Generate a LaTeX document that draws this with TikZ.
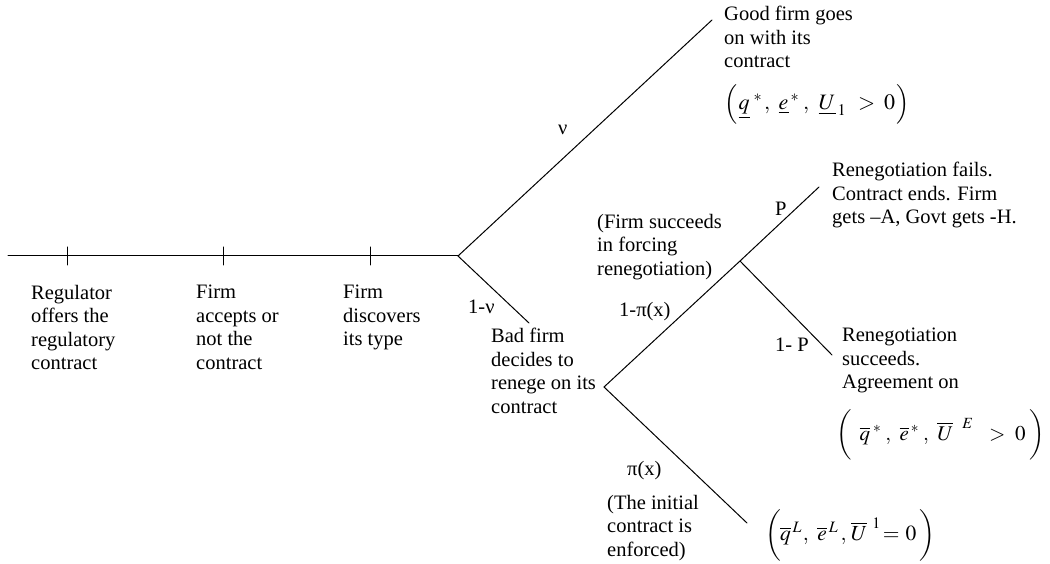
\documentclass[tikz,border=0pt]{standalone}
\usepackage{mathptmx}
\usepackage{fontspec}
\setmainfont{Liberation Serif}
\newcommand\dfont{\fontsize{20.5}{23.5}\selectfont}
\tikzset{
  txt/.style={anchor=north west, inner sep=0pt, align=left, font=\dfont},
  frm/.style={anchor=west, inner sep=0pt},
  branch/.style={line width=1pt, line cap=round},
}
\begin{document}
\begin{tikzpicture}[x=1pt,y=-1pt]
\useasboundingbox (0,0) rectangle (1050,564);
% coordinates
\coordinate (S) at (8,256);
\coordinate (A) at (458,256);
\coordinate (t1) at (67,256);
\coordinate (t2) at (223,256);
\coordinate (t3) at (370,256);
\coordinate (G) at (712,20);
\coordinate (Bd) at (529,323);
\coordinate (B) at (604,387);
\coordinate (C) at (740,261);
\coordinate (F) at (819,187);
\coordinate (R) at (832,355);
\coordinate (L) at (747,523);
% lines
\draw[branch] (S) -- (A);
\foreach \t in {t1,t2,t3} \draw[branch] (\t) ++(0,-9) -- ++(0,18);
\draw[branch] (A) -- (G);
\draw[branch] (A) -- (Bd);
\draw[branch] (B) -- (C) -- (F);
\draw[branch] (C) -- (R);
\draw[branch] (B) -- (L);
% texts
\node[txt] (reg) at (31,285) {Regulator\\offers the\\regulatory\\contract};
\node[txt] (acc) at (196,285) {Firm\\accepts or\\not the\\contract};
\node[txt] (disc) at (343,285) {Firm\\discovers\\its type};
\node[txt] (onenu) at (468,300) {1-ν};
\node[txt] (bad) at (491,328) {Bad firm\\decides to\\renege on its\\contract};
\node[txt] (nu) at (558,125) {ν};
\node[txt] (good) at (724,6) {Good firm goes\\on with its\\contract};
\node[frm, font=\fontsize{22}{26}\selectfont] (f1) at (724,104)
  {$\Bigl(\mkern1mu\underline{q}^{\hspace{4pt}*}\hspace{2pt},\hspace{6pt}\underline{e}^{\hspace{2pt}*}\hspace{4pt},\hspace{7pt}\underline{U}_{\hspace{2pt}1}\hspace{7pt}>\hspace{4pt}0\hspace{1pt}\Bigr)$};
\node[txt] (force) at (597,214) {(Firm succeeds\\in forcing\\renegotiation)};
\node[txt] (onepi) at (619,302) {1-π(x)};
\node[txt] (P) at (775,202) {P};
\node[txt] (fail) at (832,162) {Renegotiation fails.\\Contract ends. Firm\\gets –A, Govt gets -H.};
\node[txt] (oneP) at (775,338) {1- P};
\node[txt] (succ) at (842,328) {Renegotiation\\succeeds.\\Agreement on};
\node[frm, font=\fontsize{21}{25}\selectfont] (f2) at (836,435)
  {$\biggl(\hspace{8pt}\overline{q}^{\hspace{3pt}*}\hspace{4pt},\hspace{6pt}\overline{e}^{\hspace{2pt}*}\hspace{4pt},\hspace{6pt}\overline{U}^{\hspace{9pt}E}\hspace{11pt}>\hspace{5pt}0\hspace{4pt}\biggr)$};
\node[txt] (pix) at (627,461) {π(x)};
\node[txt] (init) at (607,495) {(The initial\\contract is\\enforced)};
\node[frm, font=\fontsize{21.5}{25}\selectfont] (f3) at (765,535)
  {$\biggl(\hspace{-1pt}\overline{q}^{\,L}\hspace{1pt},\hspace{6pt}\overline{e}^{\hspace{2pt}L}\,,\hspace{2pt}\overline{U}^{\hspace{5pt}1}\hspace{2pt}{=}\hspace{6pt}0\hspace{3pt}\biggr)$};
\end{tikzpicture}
\end{document}
